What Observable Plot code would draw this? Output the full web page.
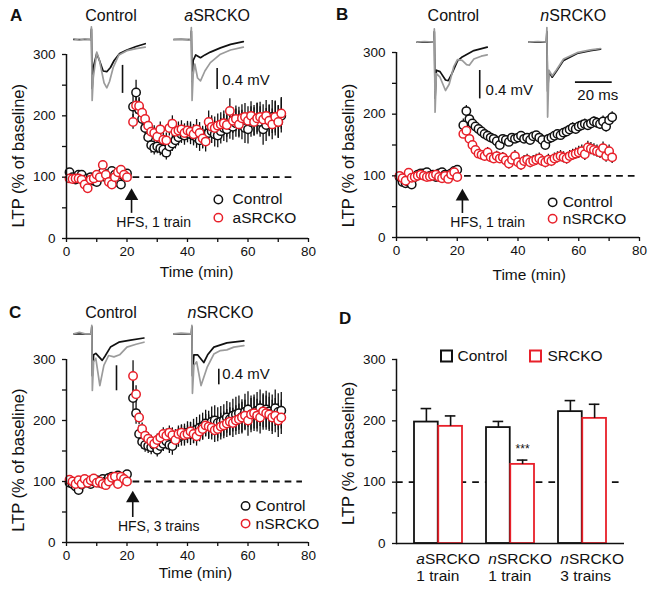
<!DOCTYPE html>
<html><head><meta charset="utf-8">
<script src="https://cdn.jsdelivr.net/npm/d3@7"></script>
<script src="https://cdn.jsdelivr.net/npm/@observablehq/plot@0.6"></script>
<style>
body{margin:0;background:#fff;font-family:"Liberation Sans",Arial,Helvetica,sans-serif}
#fig{position:relative;width:654px;height:595px;overflow:hidden;background:#fff}
.pn{position:absolute}
.pn svg{overflow:visible}
.letter{position:absolute;font-weight:bold;font-size:17px;line-height:17px;color:#111}
</style></head>
<body><div id="fig"></div>
<script>
// ---------------- data ----------------
const minutes = [1,2,3,4,5,6,7,8,9,10,11,12,13,14,15,16,17,18,19,20,
  22,23,24,25,26,27,28,29,30,31,32,33,34,35,36,37,38,39,40,41,42,43,44,45,46,47,48,49,50,51,
  52,53,54,55,56,57,58,59,60,61,62,63,64,65,66,67,68,69,70,71];

const aControl = [108,100,96,104,104,96,98,100,94,92,100,108,100,104,110,104,92,88,104,106,
  215,238,210,195,180,165,152,148,150,147, 145,140,150,155,160,165,170,168,172,170,
  168,165,160,165,170,172,175,170,168,175, 180,178,185,182,188,190,185,180,178,190,
  192,195,190,178,185,192,198,195,190,200];
const aControlErr = [5,6,5,6,5,5,6,5,6,5,6,5,6,7,6,5,6,7,6,5,
  18,20,18,16,15,14,13,12,12,12, 12,12,12,13,14,14,15,16,16,17,
  17,18,18,18,19,20,20,21,20,21, 22,22,23,22,23,24,24,25,24,25,
  25,26,25,26,27,26,27,28,27,28];
const aKO = [98,97,98,98,96,88,82,96,98,104,100,120,104,92,88,100,108,112,104,100,
  190,217,216,205,195,184,174,172,166,178, 161,160,180,187,174,176,178,172,176,174,
  170,178,172,163,158,190,182,180,184,186, 188,185,208,192,195,186,196,198,192,200,
  190,196,198,194,200,192,186,198,190,204];
const aKOErr = [4,5,4,5,5,6,5,5,6,5,6,7,6,6,5,6,6,7,6,5,
  12,14,14,13,12,12,12,12,12,12, 12,12,13,13,14,14,14,15,15,16,
  16,16,17,17,17,18,18,18,19,19, 20,20,20,21,21,22,22,22,23,23,
  23,24,24,24,25,25,25,26,26,26];

const bControl = [98,90,88,90,86,98,102,104,104,106,100,102,98,104,106,102,100,104,108,110,
  182,205,192,185,180,176,172,168,165,162, 160,156,150,160,158,155,162,160,162,165,
  160,162,158,164,166,162,158,150,160,162, 165,168,166,170,172,175,178,176,180,182,
  184,182,185,188,186,184,188,180,190,195];
const bControlErr = [4,5,4,4,5,4,4,4,4,4,4,4,4,4,4,4,4,4,4,5,
  10,9,8,7,7,6,6,6,6,6, 6,6,6,6,6,6,6,6,6,6,
  6,6,6,6,6,6,6,6,6,7, 7,7,7,7,7,7,8,8,8,8,
  8,8,8,8,8,9,9,9,9,9];
const bKO = [100,96,92,105,97,98,100,102,100,98,99,100,102,98,96,100,95,102,106,98,
  168,173,160,150,142,136,134,132,138,130, 128,132,128,130,125,120,126,132,122,118,
  124,126,122,124,126,128,124,122,126,124, 128,130,132,130,128,132,134,136,138,140,
  135,146,144,142,140,138,145,132,140,130];
const bKOErr = [4,4,5,4,4,4,4,4,4,4,4,4,4,4,4,4,4,4,4,4,
  7,7,7,7,7,7,7,8,8,8, 8,8,8,8,9,9,9,9,9,9,
  9,9,9,9,9,9,9,9,9,9, 9,9,9,9,9,9,9,9,10,10,
  10,10,10,10,10,10,10,10,10,10];

const cControl = [98,96,92,86,95,100,98,96,100,102,98,104,100,106,108,104,110,106,108,112,
  237,212,178,165,160,158,156,160,152,158, 162,166,160,158,170,172,175,176,180,178,
  182,185,188,190,195,192,198,200,196,198, 200,205,202,208,210,212,206,214,218,210,
  212,216,220,214,218,215,212,220,214,216];
const cControlErr = [4,4,5,5,4,4,4,4,4,4,4,4,4,4,4,4,4,4,4,5,
  30,18,14,12,12,12,12,12,12,12, 13,14,14,15,15,16,17,18,18,19,
  20,20,21,22,22,23,24,24,25,25, 26,26,27,27,28,28,28,29,29,30,
  30,30,30,30,30,30,30,30,30,30];
const cKO = [103,100,96,102,96,104,98,102,105,98,100,96,94,100,106,108,96,108,104,100,
  273,243,205,186,175,170,166,162,168,172, 178,175,180,176,168,178,180,176,178,182,
  178,174,182,186,192,190,188,184,186,190, 192,195,198,196,200,202,205,208,200,210,
  212,208,205,215,212,210,205,208,200,205];
const cKOErr = [4,4,4,4,4,4,4,4,4,4,4,4,4,4,4,4,4,4,4,4,
  25,14,12,10,10,10,10,10,10,10, 10,11,11,12,12,13,13,14,14,15,
  16,16,17,18,18,19,20,20,21,22, 22,23,23,24,24,25,25,25,26,26,
  26,27,27,27,28,28,28,28,28,28];

// panel D
const dCategories = ["aSRCKO 1 train", "nSRCKO 1 train", "nSRCKO 3 trains"];
const dControl = [198, 189, 215];
const dControlErr = [22, 10, 18];
const dKO = [191, 129, 204];
const dKOErr = [17, 7, 23];
const dSig = ["", "***", ""];
const dLegend = ["Control", "SRCKO"];

// example traces: [ms, mV]
const aCtrlBlack = [[0,0],[9.3,0],[9.6,0.15],[10.0,-0.7],[10.6,-0.4],[12.5,-0.2],[14,-0.3],[16,-0.45],[18,-0.46],[20,-0.4],[22,-0.3],[25,-0.2],[29,-0.15],[34,-0.1],[39,-0.06]];
const aCtrlGray = [[0,0.01],[3,-0.01],[6,0.01],[9.3,0],[9.6,0.18],[10.0,-0.87],[10.6,-0.55],[12.5,-0.18],[14,-0.3],[16.5,-0.62],[18,-0.69],[19.5,-0.6],[21.5,-0.4],[24.6,-0.22],[29,-0.16],[34,-0.13],[39,-0.11]];
const aKOBlack = [[0,0],[9.3,0],[9.6,0.12],[10.0,-0.6],[10.6,-0.3],[12,-0.22],[14.6,-0.26],[17,-0.22],[20,-0.18],[25.5,-0.12],[31,-0.07],[38,-0.03]];
const aKOGray = [[0,0],[4,0.01],[8,-0.01],[9.3,0],[9.6,0.17],[10.0,-0.87],[10.6,-0.5],[11.5,-0.35],[13,-0.55],[14.6,-0.59],[17,-0.45],[20,-0.33],[25.5,-0.21],[31,-0.15],[38,-0.11]];

const bCtrlBlack = [[0,0],[9.1,0],[9.4,0.15],[9.8,-0.8],[10.5,-0.4],[12.5,-0.42],[15.5,-0.54],[17,-0.55],[19,-0.45],[22,-0.27],[24.6,-0.21],[31,-0.12],[38.3,-0.07]];
const bCtrlGray = [[0,0],[4,0.01],[9.1,0],[9.4,0.19],[9.8,-1.0],[10.5,-0.45],[12.5,-0.5],[15.5,-0.69],[17.5,-0.6],[20,-0.35],[22,-0.25],[24.6,-0.26],[27,-0.32],[28.5,-0.33],[31,-0.24],[35,-0.2],[38.3,-0.18]];
const bKOBlack = [[0,0],[9.6,0],[9.9,0.15],[10.3,-0.7],[11,-0.42],[12.8,-0.5],[15,-0.42],[19,-0.26],[26.4,-0.16],[33.7,-0.12],[39.2,-0.1]];
const bKOGray = [[0,0],[5,0.01],[9.6,0],[9.9,0.21],[10.3,-1.07],[11,-0.4],[12.8,-0.48],[15,-0.4],[19,-0.24],[26.4,-0.15],[33.7,-0.11],[39.2,-0.09]];

const cCtrlBlack = [[0,0],[9.5,0],[9.8,0.1],[10.1,-0.6],[10.8,-0.3],[12,-0.28],[15.5,-0.38],[17,-0.32],[20,-0.19],[24.6,-0.12],[31,-0.09],[38.3,-0.06]];
const cCtrlGray = [[0,0],[3,0.02],[6,0],[9.5,0],[9.8,0.12],[10.1,-0.81],[10.8,-0.4],[12,-0.35],[14.2,-0.74],[16.4,-0.45],[19,-0.31],[21.9,-0.33],[25,-0.3],[29,-0.19],[34,-0.15],[38.3,-0.12]];
const cKOBlack = [[0,0],[9.6,0],[9.9,0.1],[10.2,-0.6],[11,-0.3],[13,-0.3],[16.4,-0.41],[18.5,-0.3],[21.9,-0.19],[29,-0.13],[38.3,-0.1]];
const cKOGray = [[0,0],[4,0.01],[9.6,0],[9.9,0.12],[10.2,-0.85],[11,-0.45],[12.5,-0.4],[14.9,-0.74],[18.2,-0.48],[21.9,-0.29],[25.5,-0.24],[29,-0.23],[32.8,-0.19],[38.3,-0.17]];

// ---------------- drawing ----------------
const FONT = "'Liberation Sans', Arial, Helvetica, sans-serif";
const RED = "#e8202a";
const INK = "#111";
const GRAY = "#9b9b9b";
const fig = document.getElementById("fig");

function place(node, left, top) {
  const d = document.createElement("div");
  d.className = "pn"; d.style.left = left + "px"; d.style.top = top + "px";
  d.appendChild(node); fig.appendChild(d); return node;
}
function italicize(root) {
  const ns = "http://www.w3.org/2000/svg";
  root.querySelectorAll("text, tspan").forEach(el => {
    if (el.childNodes.length === 1 && el.firstChild.nodeType === 3) {
      const m = el.textContent.match(/^([an])(SRCKO)$/);
      if (m) {
        el.textContent = "";
        const i = document.createElementNS(ns, "tspan"); i.setAttribute("font-style", "italic"); i.textContent = m[1];
        const r = document.createElementNS(ns, "tspan"); r.textContent = m[2];
        el.append(i, r);
      }
    }
  });
}
const baseStyle = {background: "transparent", fontFamily: FONT, fontSize: "13.5px", color: INK, overflow: "visible"};

function yLabel(y) {
  return Plot.text(["LTP (% of baseline)"], {y, frameAnchor: "left", dx: -48, rotate: -90, textAnchor: "middle", lineAnchor: "middle", text: d => d, fontSize: 16.5, fill: INK});
}

function ltpPanel(cfg) {
  const rows = minutes.map((t, i) => ({t, c: cfg.ctrl[i], ce: cfg.ctrlErr[i], k: cfg.ko[i], ke: cfg.koErr[i]}));
  const leg = [{label: "Control", color: INK}, {label: cfg.koLabel, color: RED}];
  return Plot.plot({
    width: cfg.w, height: cfg.h,
    marginLeft: cfg.ml, marginRight: cfg.mr, marginTop: cfg.mt, marginBottom: cfg.mb,
    style: baseStyle,
    x: {domain: [0, 80]},
    y: {domain: [0, 300]},
    marks: [
      Plot.ruleY([100], {x1: cfg.dash[0], x2: cfg.dash[1], stroke: INK, strokeWidth: 1.8, strokeDasharray: "6.7,5"}),
      Plot.ruleX(rows, {x: "t", y1: d => d.c - d.ce, y2: d => d.c + d.ce, stroke: INK, strokeWidth: 1.3}),
      Plot.ruleX(rows, {x: "t", y1: d => d.k - d.ke, y2: d => d.k + d.ke, stroke: INK, strokeWidth: 1.3}),
      Plot.dot(rows, {x: "t", y: "c", r: 4.2, fill: "white", stroke: INK, strokeWidth: 1.5}),
      Plot.dot(rows, {x: "t", y: "k", r: 4.2, fill: "white", stroke: RED, strokeWidth: 1.5}),
      Plot.ruleX([cfg.hfs.t], {x: d => d, y1: cfg.hfs.y1, y2: cfg.hfs.tip - 6, stroke: INK, strokeWidth: 1.6}),
      Plot.dot([cfg.hfs.t], {x: d => d, y: cfg.hfs.tip, symbol: "triangle", r: 5, fill: INK, stroke: "none", dy: 7.8}),
      Plot.text([cfg.hfs.label], {x: cfg.hfs.lx, y: cfg.hfs.ly, text: d => d, fontSize: 14, fill: INK}),
      Plot.dot(leg, {x: cfg.leg.x, y: (d, i) => cfg.leg.ys[i], r: 4.2, fill: "white", stroke: d => d.color, strokeWidth: 1.5}),
      Plot.text(leg, {x: cfg.leg.tx, y: (d, i) => cfg.leg.ys[i], text: "label", textAnchor: "start", fontSize: 15.5, fill: INK}),
      Plot.ruleX([0], {stroke: INK, strokeWidth: 1.5}),
      Plot.ruleY([0], {stroke: INK, strokeWidth: 1.5}),
      Plot.axisY({ticks: [0, 50, 100, 150, 200, 250, 300], tickFormat: d => d % 100 === 0 ? d : "", tickSize: 4, tickPadding: 7, label: null, strokeWidth: 1.3, fontSize: 13.5}),
      Plot.axisX({ticks: [0, 10, 20, 30, 40, 50, 60, 70, 80], tickFormat: d => d % 20 === 0 ? d : "", tickSize: 4, tickPadding: 4, label: null, strokeWidth: 1.3, fontSize: 13.5}),
      Plot.text(["Time (min)"], {x: cfg.tl.x, frameAnchor: "bottom", dy: cfg.tl.dy, lineAnchor: "middle", text: d => d, fontSize: 15.5, fill: INK}),
      yLabel(cfg.yl)
    ]
  });
}

function traceOverlay(cfg) {
  const W = 260, H = 110, PXMS = 1.83, PXMV = 70;
  const marks = [];
  cfg.traces.forEach(tr => marks.push(Plot.line(tr.data, {x: d => d[0] + tr.offset, y: d => d[1], stroke: tr.color, strokeWidth: 1.7})));
  marks.push(Plot.ruleX(cfg.bars, {x: "x", y1: "y1", y2: "y2", stroke: INK, strokeWidth: 1.6}));
  if (cfg.hbar) marks.push(Plot.ruleY([cfg.hbar.y], {y: d => d, x1: cfg.hbar.x1, x2: cfg.hbar.x2, stroke: INK, strokeWidth: 1.6}));
  marks.push(Plot.text(cfg.labels.filter(d => d.anchor === "start"), {x: "x", y: "y", text: "text", textAnchor: "start", fontSize: 15, fill: INK}));
  marks.push(Plot.text(cfg.labels.filter(d => d.anchor === "middle"), {x: "x", y: "y", text: "text", textAnchor: "middle", fontSize: 15, fill: INK}));
  marks.push(Plot.text(cfg.titles, {x: "x", frameAnchor: "top", dy: 15, lineAnchor: "middle", text: "text", fontSize: 16, fill: INK}));
  return Plot.plot({
    width: W, height: H, margin: 0,
    style: baseStyle,
    x: {domain: [0, W / PXMS], axis: null},
    y: {domain: [-(H - cfg.base) / PXMV, cfg.base / PXMV], axis: null},
    marks
  });
}

// Panel A
place(ltpPanel({w: 327, h: 297, ml: 66, mr: 19, mt: 54, mb: 59,
  ctrl: aControl, ctrlErr: aControlErr, ko: aKO, koErr: aKOErr, koLabel: "aSRCKO",
  dash: [22, 76], hfs: {t: 21.5, tip: 82, y1: 41, label: "HFS, 1 train", lx: 28.8, ly: 26},
  leg: {x: 50.2, tx: 54.9, ys: [63.6, 34]}, tl: {x: 43, dy: 33.7}, yl: 135}), 0, 0);
// Panel B
place(ltpPanel({w: 327, h: 297, ml: 69, mr: 15, mt: 52, mb: 60,
  ctrl: bControl, ctrlErr: bControlErr, ko: bKO, koErr: bKOErr, koLabel: "nSRCKO",
  dash: [22.4, 78.6], hfs: {t: 21.7, tip: 79, y1: 39, label: "HFS, 1 train", lx: 30, ly: 25},
  leg: {x: 51.4, tx: 54.7, ys: [57, 30.3]}, tl: {x: 43.7, dy: 38}, yl: 133}), 327, 0);
// Panel C
place(ltpPanel({w: 327, h: 298, ml: 66, mr: 19, mt: 62, mb: 53,
  ctrl: cControl, ctrlErr: cControlErr, ko: cKO, koErr: cKOErr, koLabel: "nSRCKO",
  dash: [22, 78], hfs: {t: 21.9, tip: 85, y1: 41, label: "HFS, 3 trains", lx: 30.5, ly: 26},
  leg: {x: 59.2, tx: 62.5, ys: [60, 31]}, tl: {x: 42.6, dy: 31}, yl: 135}), 0, 297);

// Panel D
(function () {
  const rows = dCategories.map((cat, i) => ({cat, c: dControl[i], ce: dControlErr[i], k: dKO[i], ke: dKOErr[i], sig: dSig[i]}));
  const HALF = 24.25, Q = 12.1, CAP = 18.7;
  const p = Plot.plot({
    width: 327, height: 298, marginLeft: 69, marginRight: 30, marginTop: 62, marginBottom: 52,
    style: baseStyle,
    x: {domain: dCategories, paddingInner: 0.329, paddingOuter: 0.241, axis: null},
    y: {domain: [0, 300]},
    marks: [
      Plot.ruleY([100], {stroke: INK, strokeWidth: 1.8, strokeDasharray: "6.7,6"}),
      Plot.barY(rows, {x: "cat", y: "c", fill: "white", stroke: INK, strokeWidth: 1.8, insetRight: HALF}),
      Plot.barY(rows, {x: "cat", y: "k", fill: "white", stroke: RED, strokeWidth: 1.8, insetLeft: HALF}),
      Plot.ruleX(rows, {x: "cat", y1: "c", y2: d => d.c + d.ce, dx: -Q, stroke: INK, strokeWidth: 1.6}),
      Plot.tickY(rows, {x: "cat", y: d => d.c + d.ce, dx: -Q, insetLeft: CAP, insetRight: CAP, stroke: INK, strokeWidth: 1.6}),
      Plot.ruleX(rows, {x: "cat", y1: "k", y2: d => d.k + d.ke, dx: Q, stroke: INK, strokeWidth: 1.6}),
      Plot.tickY(rows, {x: "cat", y: d => d.k + d.ke, dx: Q, insetLeft: CAP, insetRight: CAP, stroke: INK, strokeWidth: 1.6}),
      Plot.text(rows, {x: "cat", y: d => d.k + d.ke, dx: Q, dy: -11, text: "sig", fontSize: 12, fill: INK}),
      Plot.text(rows, {x: "cat", frameAnchor: "bottom", dx: -HALF + 2, dy: 24, text: d => d.cat.replace(" ", "\n"), textAnchor: "start", lineAnchor: "middle", lineHeight: 1.1, fontSize: 15.5, fill: INK}),
      Plot.ruleY([0], {stroke: INK, strokeWidth: 1.5}),
      Plot.frame({anchor: "left", stroke: INK, strokeWidth: 1.5}),
      Plot.axisY({ticks: [0, 50, 100, 150, 200, 250, 300], tickFormat: d => d % 100 === 0 ? d : "", tickSize: 4, tickPadding: 7, label: null, strokeWidth: 1.3, fontSize: 13.5}),
      yLabel(147),
      Plot.dot([dLegend[0]], {frameAnchor: "top-left", dx: 50, dy: -3.5, symbol: "square", r: 6.2, fill: "white", stroke: INK, strokeWidth: 2}),
      Plot.text([dLegend[0]], {frameAnchor: "top-left", dx: 61, dy: -3.5, lineAnchor: "middle", text: d => d, textAnchor: "start", fontSize: 15.5, fill: INK}),
      Plot.dot([dLegend[1]], {frameAnchor: "top-left", dx: 139, dy: -3.5, symbol: "square", r: 6.2, fill: "white", stroke: RED, strokeWidth: 2}),
      Plot.text([dLegend[1]], {frameAnchor: "top-left", dx: 151, dy: -3.5, lineAnchor: "middle", text: d => d, textAnchor: "start", fontSize: 15.5, fill: INK})
    ]
  });
  italicize(p);
  place(p, 327, 297);
})();

// Trace overlays
italicize(place(traceOverlay({base: 39,
  traces: [{data: aCtrlBlack, offset: 7.3, color: INK}, {data: aCtrlGray, offset: 7.3, color: GRAY},
           {data: aKOBlack, offset: 61.9, color: INK}, {data: aKOGray, offset: 61.9, color: GRAY}],
  bars: [{x: 33.9, y1: -0.37, y2: -0.77}, {x: 85.6, y1: -0.414, y2: -0.714}],
  labels: [{text: "0.4 mV", x: 88.4, y: -0.586, anchor: "start"}],
  titles: [{text: "Control", x: 27.6}, {text: "aSRCKO", x: 85.6}]}), 60, 0));
italicize(place(traceOverlay({base: 41.7,
  traces: [{data: bCtrlBlack, offset: 16.2, color: INK}, {data: bCtrlGray, offset: 16.2, color: GRAY},
           {data: bKOBlack, offset: 77.2, color: INK}, {data: bKOGray, offset: 77.2, color: GRAY}],
  bars: [{x: 50.4, y1: -0.404, y2: -0.81}],
  hbar: {y: -0.571, x1: 102.7, x2: 122.8},
  labels: [{text: "0.4 mV", x: 53.6, y: -0.68, anchor: "start"}, {text: "20 ms", x: 114.9, y: -0.76, anchor: "middle"}],
  titles: [{text: "Control", x: 36}, {text: "nSRCKO", x: 101.5}]}), 387, 0));
italicize(place(traceOverlay({base: 36.3,
  traces: [{data: cCtrlBlack, offset: 7.3, color: INK}, {data: cCtrlGray, offset: 7.3, color: GRAY},
           {data: cKOBlack, offset: 61.9, color: INK}, {data: cKOGray, offset: 61.9, color: GRAY}],
  bars: [{x: 30.6, y1: -0.457, y2: -0.814}, {x: 86.5, y1: -0.506, y2: -0.729}],
  labels: [{text: "0.4 mV", x: 88.4, y: -0.577, anchor: "start"}],
  titles: [{text: "Control", x: 27.6}, {text: "nSRCKO", x: 87.4}]}), 60, 297));

// Panel letters
[["A", 10, 7], ["B", 336, 6], ["C", 9, 304], ["D", 339, 310]].forEach(([t, x, y]) => {
  const d = document.createElement("div"); d.className = "letter"; d.textContent = t;
  d.style.left = x + "px"; d.style.top = y + "px"; fig.appendChild(d);
});
</script>
</body></html>
